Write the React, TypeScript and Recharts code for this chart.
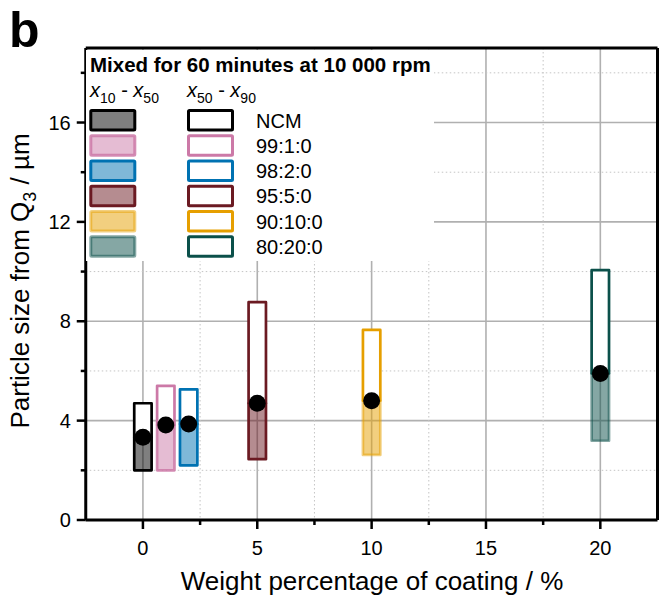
import React from 'react'
import {
  ComposedChart,
  XAxis,
  YAxis,
  CartesianGrid,
  ReferenceArea,
  ReferenceLine,
  Scatter,
  Legend,
} from 'recharts'

// particle size distribution per coating ratio (µm)
const samples = ['NCM', '99:1:0', '98:2:0', '95:5:0', '90:10:0', '80:20:0']
const coatingPct = [0, 1, 2, 5, 10, 20]
const sizeX10 = [2.0, 2.0, 2.2, 2.45, 2.62, 3.19]
const sizeX50 = [3.33, 3.82, 3.86, 4.7, 4.8, 5.9]
const sizeX90 = [4.7, 5.4, 5.26, 8.77, 7.65, 10.06]

const xMajorTicks = [0, 5, 10, 15, 20]
const xMinorTicks = [2.5, 7.5, 12.5, 17.5]
const yMajorTicks = [0, 4, 8, 12, 16]
const yMinorTicks = [2, 6, 10, 14, 18]

const title = 'Mixed for 60 minutes at 10 000 rpm'
const xLabel = 'Weight percentage of coating / %'

const colors = ['#000000', '#CC79A7', '#0072B2', '#6B1A22', '#E69F00', '#0B504A']
const lowerStrokeOpacity = [1, 0.85, 1, 1, 0.5, 0.5]

const FONT = 'Arial, "Liberation Sans", Helvetica, sans-serif'
const W = 660
const H = 599
const BOX_HALF = 0.38
const TICK = 9
const MINOR = 5
const YTM = 6
const XTM = 12

const medians = coatingPct.map((x, i) => ({ x, y: sizeX50[i] }))

function YTick({ x, y, payload }: any) {
  const v = payload.value
  const major = yMajorTicks.includes(v)
  const ax = x + YTM + TICK
  return (
    <g>
      <line x1={ax - (major ? TICK : MINOR)} x2={ax} y1={y} y2={y} stroke="#000" strokeWidth={2.5} />
      {major && (
        <text x={x} y={y} dy="0.36em" textAnchor="end" fontSize={20} fontFamily={FONT} fill="#000">
          {v}
        </text>
      )}
    </g>
  )
}

function XTick({ x, y, payload }: any) {
  const v = payload.value
  const major = xMajorTicks.includes(v)
  const ay = y - XTM - TICK
  return (
    <g>
      <line x1={x} x2={x} y1={ay} y2={ay + (major ? TICK : MINOR)} stroke="#000" strokeWidth={2.5} />
      {major && (
        <text x={x} y={y} dy="0.72em" textAnchor="middle" fontSize={20} fontFamily={FONT} fill="#000">
          {v}
        </text>
      )}
    </g>
  )
}

function Header({ x, a, b }: { x: number; a: string; b: string }) {
  return (
    <text x={x} y={47} fontSize={20} fontFamily={FONT} fill="#000">
      <tspan fontStyle="italic">x</tspan>
      <tspan dy={6} fontSize={14}>{a}</tspan>
      <tspan dy={-6}> - </tspan>
      <tspan fontStyle="italic">x</tspan>
      <tspan dy={6} fontSize={14}>{b}</tspan>
    </text>
  )
}

function Key() {
  return (
    <svg width={348} height={211} style={{ display: 'block' }}>
      <text x={4} y={22} fontSize={20.5} fontWeight="bold" fontFamily={FONT} fill="#000">
        {title}
      </text>
      <Header x={4} a="10" b="50" />
      <Header x={101} a="50" b="90" />
      {samples.map((s, i) => {
        const cy = 70.3 + i * 25.25
        return (
          <g key={s}>
            <rect
              x={4.8}
              y={cy - 9.75}
              width={44}
              height={19.5}
              rx={1}
              fill={colors[i]}
              fillOpacity={0.5}
              stroke={colors[i]}
              strokeOpacity={lowerStrokeOpacity[i]}
              strokeWidth={3}
            />
            <rect x={102.5} y={cy - 9.75} width={44} height={19.5} rx={1} fill="#fff" stroke={colors[i]} strokeWidth={3} />
            <text x={170} y={cy + 7.2} fontSize={20} fontFamily={FONT} fill="#000">
              {s}
            </text>
          </g>
        )
      })}
    </svg>
  )
}

function YLabel() {
  const cx = 29
  const cy = 281
  return (
    <text
      x={cx}
      y={cy}
      transform={`rotate(-90 ${cx} ${cy})`}
      textAnchor="middle"
      fontSize={26}
      fontFamily={FONT}
      fill="#000"
    >
      Particle size from Q<tspan dy={7} fontSize={18}>3</tspan>
      <tspan dy={-7}> / µm</tspan>
    </text>
  )
}

function XLabel() {
  return (
    <text x={372} y={590} textAnchor="middle" fontSize={26} fontFamily={FONT} fill="#000">
      {xLabel}
    </text>
  )
}

export default function App() {
  return (
    <div style={{ position: 'absolute', left: 0, top: 0, width: W, height: H, background: '#fff' }}>
      <div
        style={{
          position: 'absolute',
          left: 9,
          top: 1,
          fontFamily: FONT,
          fontWeight: 'bold',
          fontSize: 50,
          lineHeight: '58px',
          zIndex: 5,
        }}
      >
        b
      </div>
      <ComposedChart width={W} height={H} margin={{ top: 48, right: 2.5, bottom: 29, left: 25.75 }}>
        <CartesianGrid
          horizontalValues={yMajorTicks.slice(1)}
          verticalValues={xMajorTicks}
          stroke="#b0b0b0"
          strokeWidth={1.6}
        />
        <CartesianGrid
          horizontalValues={yMinorTicks}
          verticalValues={xMinorTicks}
          stroke="#c4c4c4"
          strokeWidth={1}
          strokeDasharray="1.5 2.5"
        />
        <XAxis
          type="number"
          dataKey="x"
          domain={[-2.5, 22.5]}
          allowDataOverflow
          ticks={[...xMajorTicks, ...xMinorTicks].sort((a, b) => a - b)}
          interval={0}
          height={50}
          tickSize={TICK}
          tickMargin={XTM}
          tickLine={false}
          tick={<XTick />}
          axisLine={{ stroke: '#000', strokeWidth: 3 }}
          label={<XLabel />}
        />
        <YAxis
          type="number"
          dataKey="y"
          domain={[0, 19]}
          allowDataOverflow
          ticks={[...yMajorTicks, ...yMinorTicks].sort((a, b) => a - b)}
          interval={0}
          width={60}
          tickSize={TICK}
          tickMargin={YTM}
          tickLine={false}
          tick={<YTick />}
          axisLine={{ stroke: '#000', strokeWidth: 3 }}
          label={<YLabel />}
        />
        {samples.map((s, i) => (
          <ReferenceArea
            key={s + '-low'}
            x1={coatingPct[i] - BOX_HALF}
            x2={coatingPct[i] + BOX_HALF}
            y1={sizeX10[i]}
            y2={sizeX50[i]}
            fill={colors[i]}
            fillOpacity={0.5}
            stroke={colors[i]}
            strokeOpacity={lowerStrokeOpacity[i]}
            strokeWidth={2.7}
            strokeLinejoin="round"
          />
        ))}
        {samples.map((s, i) => (
          <ReferenceArea
            key={s + '-high'}
            x1={coatingPct[i] - BOX_HALF}
            x2={coatingPct[i] + BOX_HALF}
            y1={sizeX50[i]}
            y2={sizeX90[i]}
            fill="#fff"
            fillOpacity={1}
            stroke={colors[i]}
            strokeWidth={2.7}
            strokeLinejoin="round"
          />
        ))}
        <ReferenceLine y={19} stroke="#000" strokeWidth={3} />
        <ReferenceLine x={22.5} stroke="#000" strokeWidth={3} />
        <Scatter
          data={medians}
          dataKey="y"
          isAnimationActive={false}
          shape={(p: any) => <circle cx={p.cx} cy={p.cy} r={8.5} fill="#000" />}
        />
        <Legend
          layout="vertical"
          align="center"
          verticalAlign="middle"
          content={() => <Key />}
          wrapperStyle={{ left: 86, top: 50, width: 348, height: 211, background: '#fff' }}
        />
      </ComposedChart>
    </div>
  )
}
